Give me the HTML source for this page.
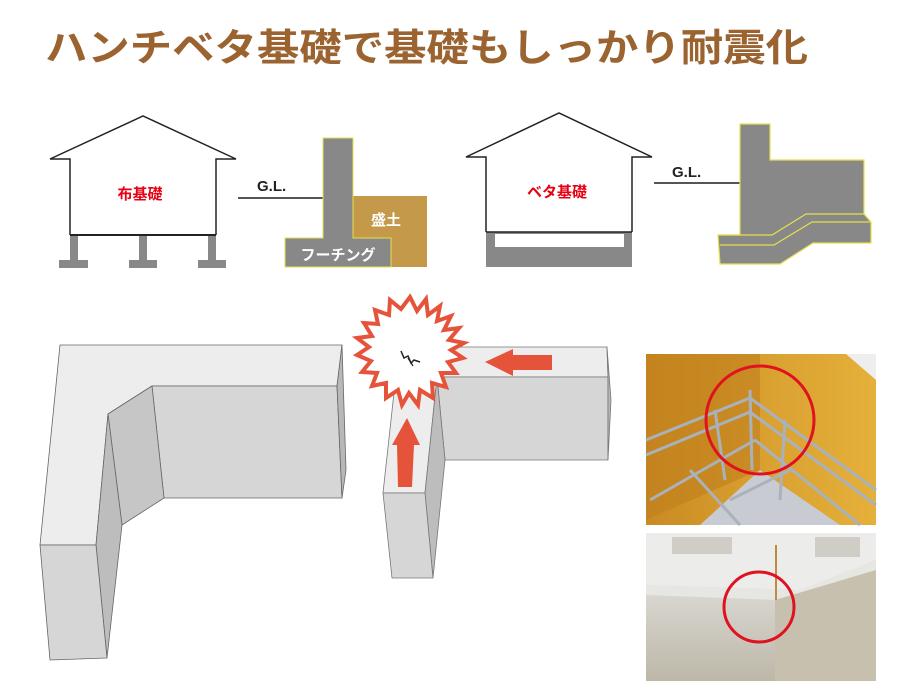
<!DOCTYPE html>
<html><head><meta charset="utf-8"><style>
html,body{margin:0;padding:0;background:#fff;}
svg{display:block;}
text{font-family:"Liberation Sans","Noto Sans CJK JP",sans-serif;font-weight:bold;}
</style></head><body>
<svg width="900" height="700" viewBox="0 0 900 700" xmlns="http://www.w3.org/2000/svg">
<rect width="900" height="700" fill="#fff"/>
<text x="45" y="61" font-size="38" fill="#9a6330" textLength="763" lengthAdjust="spacingAndGlyphs">ハンチベタ基礎で基礎もしっかり耐震化</text>

<!-- House 1 -->
<polyline points="70,235 70,159 50,159 143,116 236,159 216,159 216,235" fill="#fff" stroke="#222" stroke-width="1.5"/>
<line x1="70" y1="235" x2="216" y2="235" stroke="#222" stroke-width="2"/>
<g fill="#888">
<rect x="70" y="236" width="8" height="26"/><rect x="59" y="260" width="29" height="8"/>
<rect x="139" y="236" width="8" height="26"/><rect x="129" y="260" width="28" height="8"/>
<rect x="208" y="236" width="8" height="26"/><rect x="198" y="260" width="28" height="8"/>
</g>
<text x="140" y="199" font-size="15" fill="#e60012" text-anchor="middle">布基礎</text>
<text x="257" y="191" font-size="15" fill="#222">G.L.</text>
<line x1="238" y1="198" x2="323" y2="198" stroke="#555" stroke-width="2"/>
<rect x="353" y="196" width="74" height="71" fill="#c49a4a"/>
<polygon points="323,138 353,138 353,238 391,238 391,267 285,267 285,238 323,238" fill="#888" stroke="#e6e04a" stroke-width="1"/>
<text x="386" y="225" font-size="15" fill="#fff" text-anchor="middle">盛土</text>
<text x="338" y="260" font-size="15" fill="#fff" text-anchor="middle" font-weight="normal">フーチング</text>

<!-- House 2 -->
<polyline points="486,232 486,157 466,157 559,113 652,157 632,157 632,232" fill="#fff" stroke="#222" stroke-width="1.5"/>
<rect x="486" y="232" width="146" height="35" fill="#888"/>
<rect x="495" y="234" width="129" height="13" fill="#fff"/>
<line x1="486" y1="232" x2="632" y2="232" stroke="#222" stroke-width="1.5"/>
<text x="557" y="197" font-size="15" fill="#e60012" text-anchor="middle">ベタ基礎</text>
<text x="672" y="177" font-size="15" fill="#222">G.L.</text>
<line x1="654" y1="183" x2="740" y2="183" stroke="#555" stroke-width="2"/>
<polygon points="740,124 770,124 770,160 864,160 864,214 871,222 871,243 813,243 780,264 720,264 718,235 740,235" fill="#888" stroke="#e6e04a" stroke-width="1.2"/>
<polyline points="718,235 772,235 806,214 864,214" fill="none" stroke="#e6e04a" stroke-width="1.2"/>
<polyline points="720,245 774,245 812,222 871,222" fill="none" stroke="#e6e04a" stroke-width="1.2"/>

<!-- Left L block -->
<g stroke="#666" stroke-width="0.8" stroke-linejoin="round">
<polygon points="60,345 342,345 337,386 152,386 108,414 96,545 40,545" fill="#ededed"/>
<polygon points="152,386 337,386 342,498 164,498" fill="#d6d6d6"/>
<polygon points="342,345 346,470 342,498 337,386" fill="#b8b8b8"/>
<polygon points="108,414 152,386 164,498 122,525" fill="#c6c6c6"/>
<polygon points="96,545 108,414 122,525 107,658" fill="#bdbdbd"/>
<polygon points="40,545 96,545 107,658 50,660" fill="#d6d6d6"/>
</g>

<!-- Middle block -->
<g stroke="#777" stroke-width="0.8" stroke-linejoin="round">
<polygon points="399,347 607,347 608,377 437,377 425,493 383,493" fill="#ededed"/>
<polygon points="437,377 608,377 608,460 445,460" fill="#d6d6d6"/>
<polygon points="607,347 611,400 608,460 608,377" fill="#b8b8b8"/>
<polygon points="425,493 437,377 445,460 433,578" fill="#bdbdbd"/>
<polygon points="383,493 425,493 433,578 392,578" fill="#d6d6d6"/>
</g>
<!-- starburst -->
<polygon fill="#fff" stroke="#e5533a" stroke-width="4" stroke-linejoin="miter" points="
410,297 417,311 426,299 428,315 440,306 437,321 451,316 444,330 459,328 449,340 464,343 451,350 463,358 448,362 456,373 441,373 446,387 432,383 433,398 420,390 418,405 409,393 402,405 398,390 386,398 386,383 372,386 377,373 362,372 371,361 357,355 369,347 357,338 372,336 364,323 378,324 375,310 389,315 390,300 401,309"/>
<polyline points="401,351 404,358 408,356 411,363 414,360 420,362" fill="none" stroke="#222" stroke-width="1.5"/>
<line x1="408" y1="358" x2="413" y2="366" stroke="#222" stroke-width="1.2"/>
<!-- arrows -->
<polygon points="485,362 513,349 513,355 552,355 552,370 513,370 513,376" fill="#e5533a"/>
<polygon points="407,418 420,445 414,445 412,487 398,487 397,445 392,445" fill="#e5533a"/>

<!-- Photos -->
<defs>
<linearGradient id="og" x1="0" y1="0" x2="1" y2="0"><stop offset="0" stop-color="#c98a22"/><stop offset="0.5" stop-color="#d9a030"/><stop offset="1" stop-color="#e5b03a"/></linearGradient>
<linearGradient id="cg" x1="0" y1="0" x2="0" y2="1"><stop offset="0" stop-color="#d8d6d0"/><stop offset="1" stop-color="#bdb7a8"/></linearGradient>
</defs>
<rect x="646" y="354" width="230" height="171" fill="url(#og)"/>
<polygon points="646,354 760,354 760,470 646,520" fill="#c07e1c" opacity="0.6"/>
<polygon points="700,525 760,470 840,525" fill="#c8ccd2"/>
<polygon points="846,354 876,354 876,380" fill="#eee"/>
<g stroke="#a9b2bc" stroke-width="3" fill="none">
<line x1="646" y1="440" x2="750" y2="398"/><line x1="646" y1="455" x2="750" y2="412"/>
<line x1="750" y1="398" x2="876" y2="490"/><line x1="750" y1="412" x2="876" y2="505"/>
<line x1="650" y1="500" x2="755" y2="440"/><line x1="755" y1="440" x2="860" y2="525"/>
<line x1="750" y1="390" x2="752" y2="470"/><line x1="715" y1="410" x2="725" y2="480"/>
<line x1="785" y1="420" x2="780" y2="500"/><line x1="690" y1="470" x2="740" y2="525"/>
<line x1="730" y1="500" x2="790" y2="470"/>
</g>
<circle cx="760" cy="420" r="54" fill="none" stroke="#e0121f" stroke-width="3"/>
<rect x="646" y="533" width="230" height="148" fill="#ddd"/>
<polygon points="646,533 876,533 876,560 800,590 646,585" fill="#ececea"/>
<polygon points="646,585 800,590 876,560 876,580 775,600 646,595" fill="#e6e6e2"/>
<rect x="672" y="537" width="60" height="17" fill="#cfcdc6"/>
<rect x="815" y="537" width="45" height="20" fill="#cfcdc6"/>
<polygon points="646,595 775,600 775,681 646,681" fill="url(#cg)"/>
<polygon points="775,600 876,570 876,681 775,681" fill="#c8c0ae"/>
<line x1="776" y1="545" x2="776" y2="600" stroke="#c08a40" stroke-width="2"/>
<circle cx="759" cy="607" r="35" fill="none" stroke="#e0121f" stroke-width="3"/>
</svg>
</body></html>
